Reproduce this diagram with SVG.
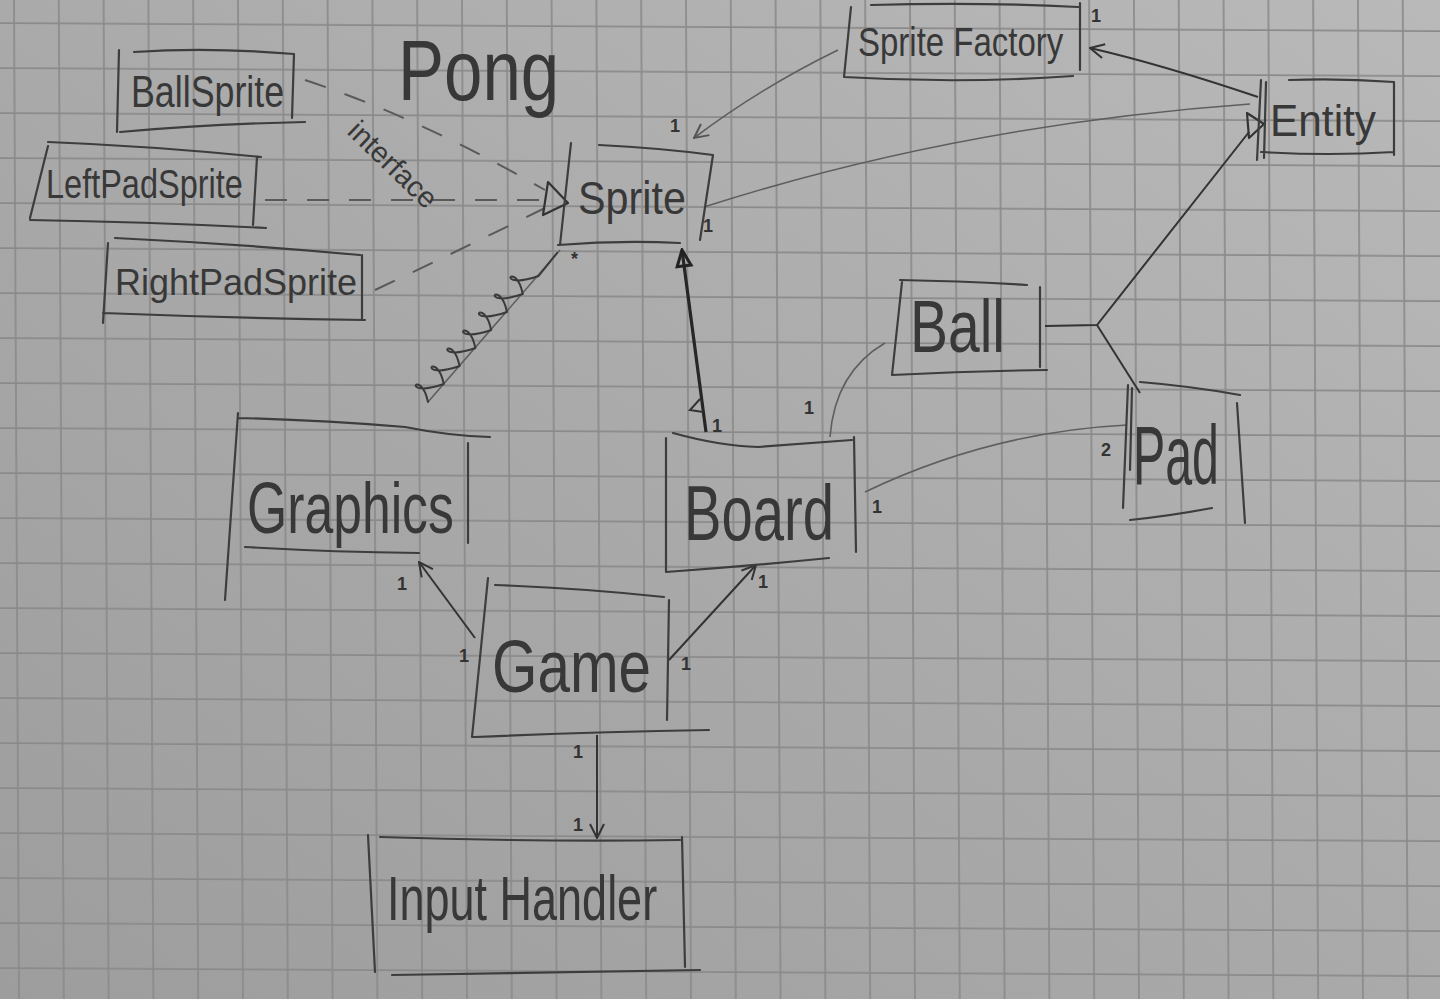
<svg xmlns="http://www.w3.org/2000/svg" width="1440" height="999" viewBox="0 0 1440 999">
<defs>
<linearGradient id="paper" x1="0" y1="1" x2="1" y2="0">
<stop offset="0" stop-color="#9d9d9d"/>
<stop offset="0.5" stop-color="#aaaaaa"/>
<stop offset="1" stop-color="#b9b9b9"/>
</linearGradient>
<pattern id="grid" patternUnits="userSpaceOnUse" x="13" y="22" width="44.8" height="45" patternTransform="matrix(1 0.0056 0.005 1 0 0)">
<path d="M0,1 H44.8 M1,0 V45" stroke="#8a8a8a" stroke-width="1.7" fill="none"/>
</pattern>
<marker id="arr" markerUnits="userSpaceOnUse" viewBox="0 0 16 16" refX="15" refY="8" markerWidth="16" markerHeight="16" orient="auto">
<path d="M1,1 L15,8 L1,15" fill="none" stroke="#333" stroke-width="2"/>
</marker>
<marker id="arrLight" markerUnits="userSpaceOnUse" viewBox="0 0 16 16" refX="15" refY="8" markerWidth="16" markerHeight="16" orient="auto">
<path d="M1,1 L15,8 L1,15" fill="none" stroke="#555" stroke-width="2"/>
</marker>
<marker id="arrHeavy" markerUnits="userSpaceOnUse" viewBox="0 0 20 20" refX="18" refY="10" markerWidth="20" markerHeight="20" orient="auto">
<path d="M2,3 L18,10 L2,17 Z" fill="none" stroke="#222" stroke-width="3"/>
</marker>
</defs>
<style>
.box{fill:none;stroke:#3d3d3d;stroke-width:2.2;stroke-linecap:round;stroke-linejoin:round}
.lbl{font-family:"Liberation Sans",Arial,sans-serif;fill:#383838}
.mult{font-family:"Liberation Sans",Arial,sans-serif;font-size:18px;font-weight:bold;fill:#333}
.dark{fill:none;stroke:#333;stroke-width:2}
.light{fill:none;stroke:#5e5e5e;stroke-width:1.6}
.dash{fill:none;stroke:#5a5a5a;stroke-width:2;stroke-dasharray:22 20}
.tri{fill:none;stroke:#333;stroke-width:2.2;stroke-linejoin:round}
</style>
<rect width="1440" height="999" fill="url(#paper)"/>
<rect width="1440" height="999" fill="url(#grid)"/>

<text class="lbl" font-size="69" transform="translate(398,100) scale(1,1.24)">Pong</text>

<g id="connectors">
<path class="dash" d="M305,80 Q420,118 545,190"/>
<path class="dash" d="M265,200 L543,200"/>
<path class="dash" d="M375,290 Q460,250 545,208"/>
<polygon class="tri" points="548,182 568,203 543,215"/>
<text class="lbl" x="346" y="133" font-size="29" transform="rotate(44 346 133)">interface</text>

<path class="light" d="M838,50 Q760,88 694,138" marker-end="url(#arrLight)"/>
<text class="mult" x="670" y="132">1</text>

<path class="dark" d="M1258,97 Q1160,64 1090,48" marker-end="url(#arr)"/>
<text class="mult" x="1091" y="22">1</text>

<path class="light" d="M704,207 Q960,125 1250,104"/>
<path class="dark" d="M1045,326 L1097,325 L1249,132"/>
<path class="dark" d="M1097,325 L1140,393"/>
<polygon class="tri" points="1247,113 1264,124 1249,138"/>

<path class="light" d="M865,492 Q990,432 1127,425"/>
<text class="mult" x="872" y="513">1</text>
<text class="mult" x="1101" y="456">2</text>

<path class="light" d="M885,343 Q835,372 830,437"/>
<text class="mult" x="804" y="414">1</text>

<path class="dark" style="stroke-width:3.2;stroke:#262626" d="M706,432 L682,250" marker-end="url(#arrHeavy)"/>
<path class="dark" d="M700,399 L690,410 L703,412"/>
<text class="mult" x="712" y="432">1</text>
<text class="mult" x="703" y="232">1</text>

<path class="light" d="M428,402 L560,250"/>
<path fill="none" stroke="#3a3a3a" stroke-width="2" stroke-linejoin="round" stroke-linecap="round" d="M428,402 c-8,-36.3 -29.9,-2.3 15.8,-18 c-8,-36.3 -29.9,-2.3 15.8,-18 c-8,-36.3 -29.9,-2.3 15.8,-18 c-8,-36.3 -29.9,-2.3 15.8,-18 c-8,-36.3 -29.9,-2.3 15.8,-18 c-8,-36.3 -29.9,-2.3 15.8,-18 c-8,-36.3 -29.9,-2.3 15.8,-18 L557,253"/>
<text class="mult" x="571" y="265">*</text>

<path class="dark" d="M475,638 L419,562" marker-end="url(#arr)"/>
<text class="mult" x="397" y="590">1</text>
<text class="mult" x="459" y="662">1</text>

<path class="dark" d="M669,660 L756,565" marker-end="url(#arr)"/>
<text class="mult" x="758" y="588">1</text>
<text class="mult" x="681" y="670">1</text>

<path class="dark" d="M597,735 L597,838" marker-end="url(#arr)"/>
<text class="mult" x="573" y="758">1</text>
<text class="mult" x="573" y="831">1</text>
</g>

<g id="node-ballsprite">
<path class="box" d="M119,50 L117,132 M134,52 Q210,47 294,54 M294,54 L292,118 M120,132 Q210,124 305,122"/>
<text class="lbl" font-size="35.8" transform="translate(131,107) scale(1,1.23)">BallSprite</text>
</g>
<g id="node-leftpadsprite">
<path class="box" d="M48,142 Q150,146 261,157 M48,146 L30,218 M30,220 Q150,222 266,228 M257,157 L253,225"/>
<text class="lbl" font-size="32.5" transform="translate(46,198) scale(1,1.23)">LeftPadSprite</text>
</g>
<g id="node-rightpadsprite">
<path class="box" d="M115,238 Q240,244 360,255 M108,243 L103,323 M103,313 Q230,318 365,320 M362,255 L362,320"/>
<text class="lbl" font-size="36" transform="translate(115,295) scale(1,1.05)">RightPadSprite</text>
</g>
<g id="node-sprite">
<path class="box" d="M571,143 L560,245 M599,145 Q660,148 713,155 M713,155 L700,240 M558,245 Q620,240 680,243"/>
<text class="lbl" font-size="41.3" transform="translate(578,214) scale(1,1.11)">Sprite</text>
</g>
<g id="node-spritefactory">
<path class="box" d="M851,7 L844,77 M871,5 Q980,2 1078,7 M1080,3 L1080,70 M844,77 Q960,84 1073,76"/>
<text class="lbl" font-size="33" transform="translate(858,56) scale(1,1.21)">Sprite Factory</text>
</g>
<g id="node-entity">
<path class="box" d="M1261,80 L1257,160 M1266,82 L1264,158 M1289,80 Q1340,78 1394,82 M1394,82 L1394,155 M1261,152 Q1330,156 1394,152"/>
<text class="lbl" font-size="42.4" transform="translate(1270,136) scale(1,1.04)">Entity</text>
</g>
<g id="node-ball">
<path class="box" d="M902,282 L892,375 M900,280 Q960,281 1027,285 M1040,287 L1040,367 M892,375 Q970,371 1047,370"/>
<text class="lbl" font-size="57" transform="translate(910,352) scale(1,1.3)">Ball</text>
</g>
<g id="node-pad">
<path class="box" d="M1128,385 L1123,508 M1132,388 L1130,470 M1140,382 Q1190,386 1240,395 M1237,403 L1245,523 M1130,520 Q1170,516 1212,508"/>
<text class="lbl" font-size="48.3" transform="translate(1133,484) scale(1,1.74)">Pad</text>
</g>
<g id="node-board">
<path class="box" d="M666,438 L666,572 M673,433 Q720,446 758,447 Q800,444 852,440 M854,437 L856,552 M666,572 Q750,566 829,558"/>
<text class="lbl" font-size="56.2" transform="translate(684,540) scale(1,1.39)">Board</text>
</g>
<g id="node-graphics">
<path class="box" d="M238,418 Q320,420 405,427 Q450,436 490,437 M238,413 L225,600 M468,443 L468,543 M245,547 Q330,552 419,553"/>
<text class="lbl" font-size="51.7" transform="translate(247,533) scale(1,1.39)">Graphics</text>
</g>
<g id="node-game">
<path class="box" d="M488,578 L472,737 M495,585 Q580,588 664,597 M669,600 L667,720 M472,737 L475,737 Q590,732 709,730"/>
<text class="lbl" font-size="58.4" transform="translate(492,692) scale(1,1.27)">Game</text>
</g>
<g id="node-inputhandler">
<path class="box" d="M368,835 L375,972 M380,837 Q530,842 680,840 M682,837 L685,967 M392,975 Q540,972 700,970"/>
<text class="lbl" font-size="45" transform="translate(387,920) scale(1,1.38)">Input Handler</text>
</g>
</svg>
